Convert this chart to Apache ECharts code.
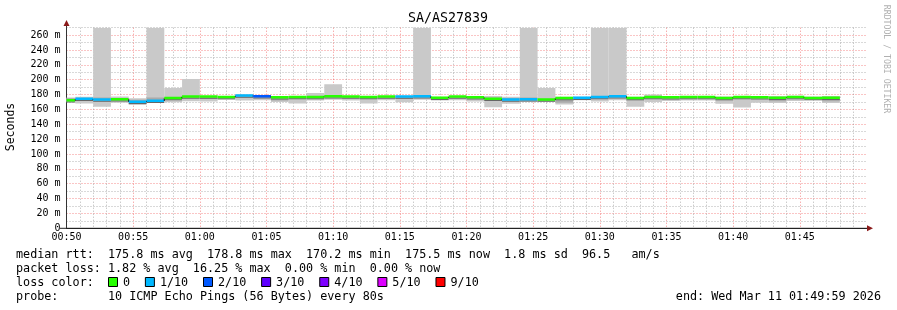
<!DOCTYPE html>
<html><head><meta charset="utf-8">
<script src="https://cdn.jsdelivr.net/npm/echarts@6/dist/echarts.min.js"></script>
<style>html,body{margin:0;padding:0;background:#fff}#c{width:897px;height:310px}</style>
</head><body><div id="c"></div>
<script>
// ---------------- data ----------------
const chartTitle = 'SA/AS27839';
const axisOrigin = '00:50:00';
const barStart = ['00:49:20','00:50:40','00:52:00','00:53:20','00:54:40','00:56:00','00:57:20','00:58:40',
  '01:00:00','01:01:20','01:02:40','01:04:00','01:05:20','01:06:40','01:08:00','01:09:20','01:10:40',
  '01:12:00','01:13:20','01:14:40','01:16:00','01:17:20','01:18:40','01:20:00','01:21:20','01:22:40',
  '01:24:00','01:25:20','01:26:40','01:28:00','01:29:20','01:30:40','01:32:00','01:33:20','01:34:40',
  '01:36:00','01:37:20','01:38:40','01:40:00','01:41:20','01:42:40','01:44:00','01:45:20','01:46:40'];
const lastBarEnd = '01:48:00';
const medianMs = [172,174,173,173.5,170,171.5,175,177,177,176.5,178.5,177.5,176,176.5,176.5,177.5,177,
  176.5,177,177,177.5,175.5,177,176,174,173,173.5,173,175,175.5,176.5,177.5,175,176.5,176,176.5,176.5,
  175,176.5,176,175.5,176.5,175,175.5];
const minMs = [169.5,168,163.5,169,166,169,169.5,171,170.5,173,172,172.5,170,168,172,173,172,
  168,172.5,169.5,173,172,172.5,170.5,163,167.5,170,170.5,166.5,172.5,170.5,172.5,163.5,170,171.5,172,172,
  167.5,162.5,169,168.5,171.5,172.5,168.5];
const maxMs = [176,177,290,177.5,175,290,189,201,178,178,180,179,178,178,182,194,178,
  178,178,178.5,290,177,178,177.5,178,177,290,189,177,177,290,290,177,180,178,178,178,
  177.5,178,178,178,178.5,177.5,178];
const innerLoMs = [171,172,171,172,168.5,170.5,173,175.5,174,175,176,176,172,174,174.5,176,175.5,
  174,175.5,174,176,173,175.5,174,172,171.5,172,171,169,174,174,176,172.5,174.5,173.5,175,175,
  172.5,174.5,174,171,175,173.5,171];
const innerHiMs = [175,175.5,176,175,173,176,176,178,177.5,177.5,179,178,177,177,177.5,178.5,177.5,
  177,177.5,177.5,178.5,176.5,177.5,177,176,175.5,176,174.5,176,176.5,177.5,178.5,176,178,177,177.5,177.5,
  176,177.5,177,176.5,177.5,176,177];
const lossTenths = [0,1,1,0,1,1,0,0,0,0,1,2,0,0,0,0,0,
  0,0,1,1,0,0,0,0,1,1,0,0,1,1,1,0,0,0,0,0,
  0,0,0,0,0,0,0];
const lossLevels = [0,1,2,3,4,5,9];
const lossLabels = ['0','1/10','2/10','3/10','4/10','5/10','9/10'];
const lossColors = ['#26ff00','#00b8ff','#0059ff','#5e00ff','#7e00ff','#dd00ff','#ff0000'];
const xTickLabels = ['00:50','00:55','01:00','01:05','01:10','01:15','01:20','01:25','01:30','01:35','01:40','01:45'];
const yAxisName = 'Seconds';
const statsLine1 = 'median rtt:  175.8 ms avg  178.8 ms max  170.2 ms min  175.5 ms now  1.8 ms sd  96.5   am/s';
const statsLine2 = 'packet loss: 1.82 % avg  16.25 % max  0.00 % min  0.00 % now';
const lossCaption = 'loss color:';
const probeLine = 'probe:       10 ICMP Echo Pings (56 Bytes) every 80s';
const endLine = 'end: Wed Mar 11 01:49:59 2026';
const creditText = 'RRDTOOL / TOBI OETIKER';

// ---------------- helpers ----------------
function toMin(s) {
  const p = s.split(':').map(Number);
  const o = axisOrigin.split(':').map(Number);
  return (p[0]*60 + p[1] + p[2]/60) - (o[0]*60 + o[1] + o[2]/60);
}
function lossColor(l) {
  let idx = 0;
  for (let i = 0; i < lossLevels.length; i++) if (l >= lossLevels[i]) idx = i;
  return lossColors[idx];
}
const seriesData = barStart.map((s, i) => {
  const end = i + 1 < barStart.length ? barStart[i+1] : lastBarEnd;
  return [toMin(s), toMin(end), minMs[i], maxMs[i], innerLoMs[i], innerHiMs[i], medianMs[i],
          lossTenths[i], i > 0 ? medianMs[i-1] : medianMs[i]];
});

const FONT = '"DejaVu Sans Mono", monospace';
const MAJOR = 'rgba(240,90,90,0.7)';
const MINOR = 'rgba(140,140,140,0.65)';
const yMax = 270, yStep = 10;
const yColors = [];
for (let v = 0; v <= yMax; v += yStep) yColors.push((v % 20 === 0) ? MAJOR : MINOR);
const xColors = [];
for (let m = 0; m <= 60; m++) xColors.push(m === 60 ? 'rgba(0,0,0,0)' : (m % 5 === 0 ? MAJOR : MINOR));

function renderItem(params, api) {
  const cs = params.coordSys;
  const top = cs.y, bottom = cs.y + cs.height;
  const left = Math.max(cs.x, api.coord([api.value(0), 0])[0]);
  const right = Math.min(cs.x + cs.width, api.coord([api.value(1), 0])[0]);
  const yOf = v => Math.min(bottom, Math.max(top, api.coord([0, v])[1]));
  const lo = yOf(api.value(2)), hi = yOf(api.value(3));
  const ilo = yOf(api.value(4)), ihi = yOf(api.value(5));
  const med = yOf(api.value(6)), prev = yOf(api.value(8));
  const w = right - left;
  const children = [
    {type:'rect', shape:{x:left, y:hi, width:w, height:lo-hi}, style:{fill:'#c9c9c9'}},
    {type:'rect', shape:{x:left, y:ihi, width:w, height:ilo-ihi}, style:{fill:'#aaaaaa'}},
    {type:'rect', shape:{x:left, y:med+1, width:w, height:1}, style:{fill:'#666'}},
  ];
  if (Math.abs(prev - med) > 0.5 && params.dataIndex > 0) {
    children.push({type:'line', shape:{x1:left, y1:prev, x2:left, y2:med}, style:{stroke:'#000', lineWidth:1}});
  }
  children.push({type:'rect', shape:{x:left, y:med-1.5, width:w, height:2.5}, style:{fill:lossColor(api.value(7))}});
  return {type:'group', children};
}

// legend boxes
const legendEls = [];
let lx = 108;
lossLabels.forEach((lab, i) => {
  legendEls.push({type:'rect', shape:{x:lx+0.5, y:277.5, width:9, height:9},
    style:{fill:lossColors[i], stroke:'#000', lineWidth:1}});
  legendEls.push({type:'text', x:lx+15, y:282.5,
    style:{text:lab, font:'11.75px ' + FONT, fill:'#000', textVerticalAlign:'middle', verticalAlign:'middle'}});
  lx = lx + 15 + lab.length*7.08 + 14.8;
});

function txt(text, x, y, size, opts) {
  return Object.assign({type:'text', x, y, style:Object.assign({text, font: size + 'px ' + FONT, fill:'#000',
    textVerticalAlign:'middle', verticalAlign:'middle'}, (opts && opts.style) || {})}, (opts && opts.el) || {});
}

const chart = echarts.init(document.getElementById('c'), null, {renderer:'canvas'});
chart.setOption({
  animation:false,
  backgroundColor:'#fff',
  grid:{left:66.5, right:30.5, top:27.7, bottom:81.7, containLabel:false},
  xAxis:{type:'value', min:0, max:60, interval:1,
    axisLine:{show:true, onZero:false, lineStyle:{color:'#222', width:1}},
    axisTick:{show:false},
    axisLabel:{show:true, margin:4, color:'#000', fontFamily:'DejaVu Sans Mono', fontSize:10,
      formatter: v => { const r = Math.round(v); return (r % 5 === 0 && r/5 < xTickLabels.length) ? xTickLabels[r/5] : ''; }},
    splitLine:{show:true, lineStyle:{color:xColors, width:1, type:[1,2]}}},
  yAxis:{type:'value', min:0, max:yMax, interval:yStep,
    axisLine:{show:true, lineStyle:{color:'#333', width:1}},
    axisTick:{show:false},
    axisLabel:{show:true, margin:6, color:'#000', fontFamily:'DejaVu Sans Mono', fontSize:10,
      formatter: v => { const r = Math.round(v); return r % 20 === 0 ? (r === 0 ? '0' : r + ' m') : ''; }},
    splitLine:{show:true, lineStyle:{color:yColors, width:1, type:[1,2]}}},
  series:[{type:'custom', renderItem, data:seriesData, encode:{x:[0,1], y:[2,3]}, clip:true, z:3}],
  graphic:[
    txt(chartTitle, 448, 19, 13.3, {style:{textAlign:'center', align:'center'}}),
    txt(yAxisName, 11, 127, 11.5, {style:{textAlign:'center', align:'center'}, el:{rotation:Math.PI/2}}),
    txt(creditText, 886, 59, 8.2, {style:{textAlign:'center', align:'center', fill:'#b0b0b0'}, el:{rotation:-Math.PI/2}}),
    {type:'line', shape:{x1:66.5, y1:22, x2:66.5, y2:28}, style:{stroke:'#333', lineWidth:1}},
    {type:'polygon', shape:{points:[[66.5,20],[63.5,26],[69.5,26]]}, style:{fill:'#8b1a1a'}},
    {type:'line', shape:{x1:60, y1:228.3, x2:867, y2:228.3}, style:{stroke:'#222', lineWidth:1}},
    {type:'polygon', shape:{points:[[873,228.3],[867,225.3],[867,231.3]]}, style:{fill:'#8b1a1a'}},
    txt(statsLine1, 16, 255, 11.75),
    txt(statsLine2, 16, 268.5, 11.75),
    txt(lossCaption, 16, 282.5, 11.75),
    txt(probeLine, 16, 296.5, 11.75),
    txt(endLine, 881, 296.5, 11.75, {style:{textAlign:'right', align:'right'}}),
    ...legendEls
  ]
});
</script></body></html>
